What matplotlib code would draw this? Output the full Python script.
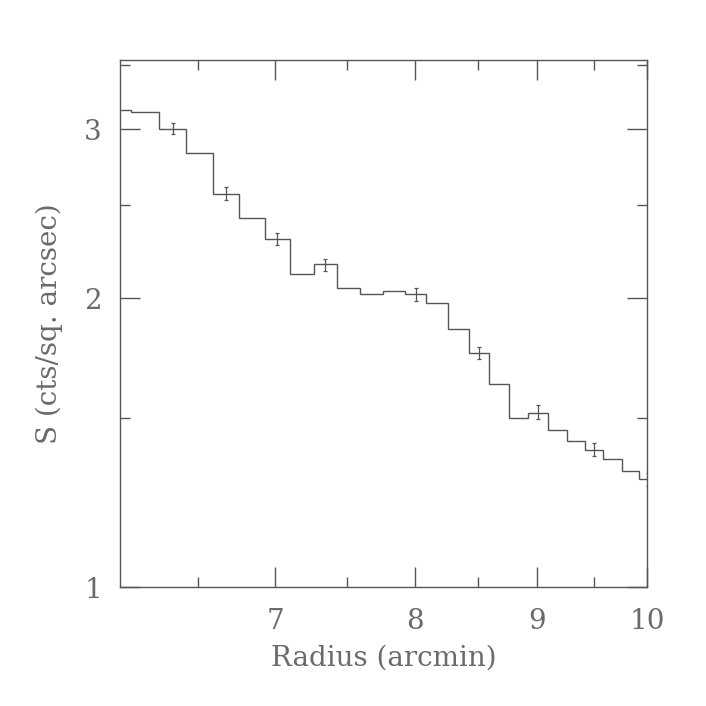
import numpy as np
import matplotlib.pyplot as plt
from matplotlib.ticker import FixedLocator, FixedFormatter, NullFormatter

# bin edges (arcmin) and surface brightness per bin
edges = [5.93, 6.095, 6.259, 6.427, 6.590, 6.761, 6.928, 7.096, 7.262, 7.426,
         7.593, 7.760, 7.925, 8.091, 8.259, 8.424, 8.590, 8.758, 8.923, 9.088,
         9.258, 9.421, 9.588, 9.758, 9.921, 10.09]
surf = [3.140, 3.125, 3.005, 2.833, 2.570, 2.425, 2.306, 2.123, 2.170, 2.049,
        2.021, 2.036, 2.020, 1.978, 1.858, 1.755, 1.628, 1.500, 1.520, 1.459,
        1.420, 1.392, 1.361, 1.323, 1.296]

# error bars (only drawn on some bins)
err_r = [6.343, 6.676, 7.012, 7.344, 8.008, 8.507, 9.005, 9.504, 10.005]
err_s = [3.006, 2.572, 2.306, 2.168, 2.019, 1.755, 1.522, 1.392, 1.296]
err_sig = [0.042, 0.038, 0.032, 0.031, 0.030, 0.027, 0.026, 0.023, 0.021]

x_major = [7, 8, 9, 10]
x_minor = [6.5, 7.5, 8.5, 9.5]
y_major = [1, 2, 3]
y_minor = [1.5, 2.5, 3.5]

grey = "#555555"
txt = "#6a6a6a"
plt.rcParams["font.family"] = ["DejaVu Serif"]

fig = plt.figure(figsize=(7.06, 7.06), dpi=100)
ax = fig.add_axes([0.170, 0.168, 0.7468, 0.7473])

ax.stairs(surf, edges, color=grey, linewidth=1.0)
ax.errorbar(err_r, err_s, yerr=err_sig, fmt="none", ecolor=grey,
            elinewidth=0.9, capsize=1.6, capthick=0.9)

ax.set_xscale("log")
ax.set_yscale("log")
ax.set_xlim(6.03, 10.0)
ax.set_ylim(1.0, 3.545)

ax.xaxis.set_major_locator(FixedLocator(x_major))
ax.xaxis.set_major_formatter(FixedFormatter([str(v) for v in x_major]))
ax.xaxis.set_minor_locator(FixedLocator(x_minor))
ax.xaxis.set_minor_formatter(NullFormatter())
ax.yaxis.set_major_locator(FixedLocator(y_major))
ax.yaxis.set_major_formatter(FixedFormatter([str(v) for v in y_major]))
ax.yaxis.set_minor_locator(FixedLocator(y_minor))
ax.yaxis.set_minor_formatter(NullFormatter())

ax.tick_params(which="both", direction="in", top=True, right=True,
               color=grey, width=1.0, labelcolor=txt, labelsize=20)
ax.tick_params(which="major", length=14.4)
ax.tick_params(which="minor", length=7.2)
ax.tick_params(axis="x", which="major", pad=15)
ax.tick_params(axis="y", which="major", pad=13)

for sp in ax.spines.values():
    sp.set_color(grey)
    sp.set_linewidth(1.0)

ax.set_xlabel("Radius (arcmin)", fontsize=20, color=txt, labelpad=7)
ax.set_ylabel("S (cts/sq. arcsec)", fontsize=20, color=txt, labelpad=15)

fig.savefig("out.png", dpi=100)
